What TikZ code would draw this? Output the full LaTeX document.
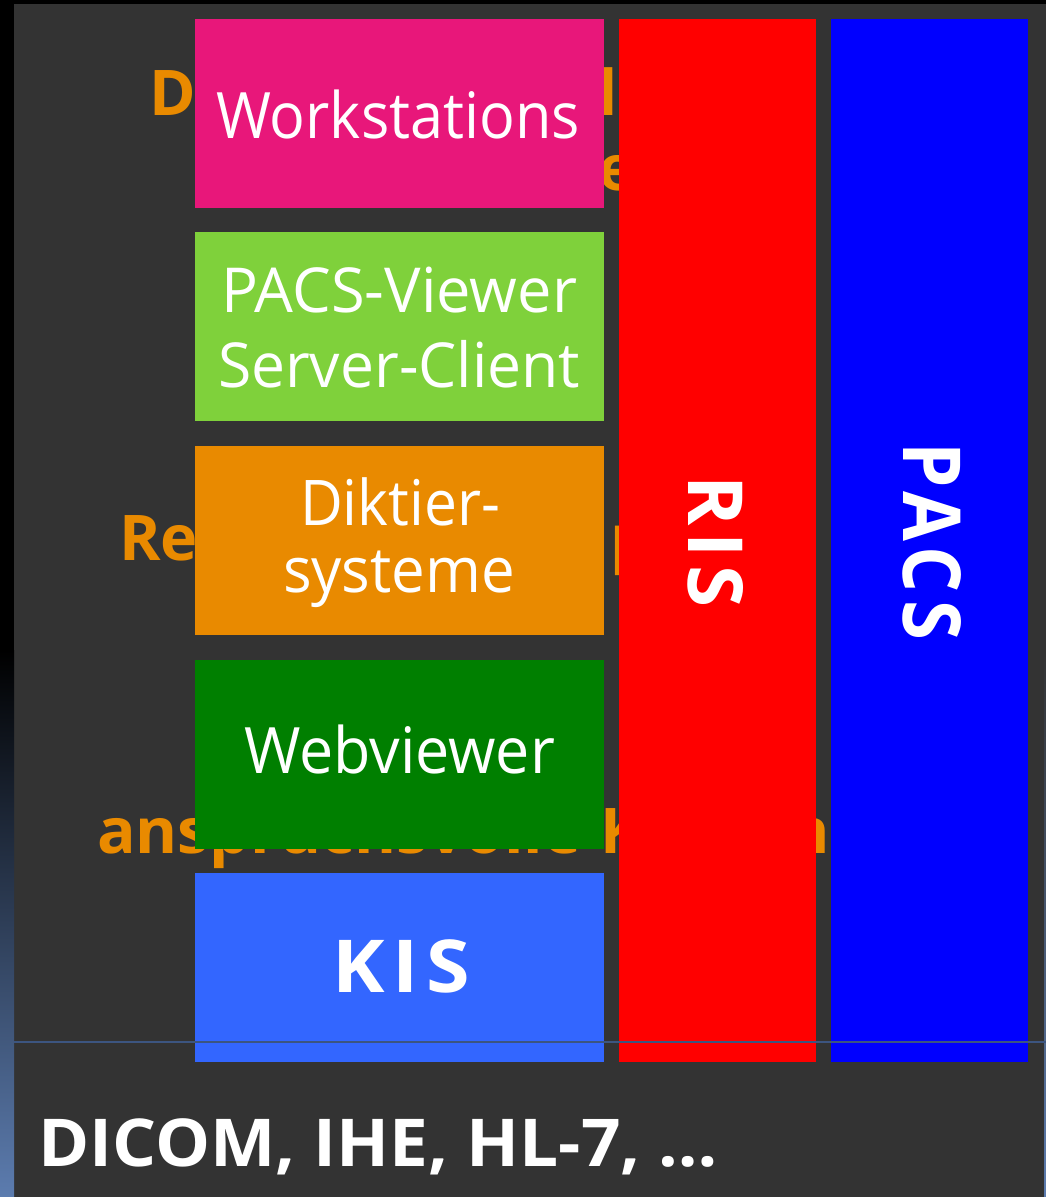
\documentclass[tikz,border=0pt]{standalone}
\usepackage{fontspec}
\usepackage{graphicx}
\setmainfont{Open Sans}
\newfontfamily\spacedsans{Open Sans}[LetterSpace=10]

\definecolor{bgdark}{HTML}{333333}
\definecolor{edgeblue}{HTML}{5C7CAF}
\definecolor{sepline}{HTML}{3C5580}
\definecolor{wspink}{HTML}{E8177A}
\definecolor{viewgreen}{HTML}{7FD13B}
\definecolor{dictorange}{HTML}{E98A00}
\definecolor{webgreen}{HTML}{007F00}
\definecolor{kisblue}{HTML}{3366FF}
\definecolor{risred}{HTML}{FF0000}
\definecolor{pacsblue}{HTML}{0000FF}

% scale a text horizontally to a given width (in pt)
\newcommand\fitw[2]{\sbox0{#2}\scalebox{\fpeval{#1/(\the\wd0)}}[1]{\usebox0}}
\newcommand\fs[1]{\fontsize{#1}{#1}\selectfont}

\begin{document}
\begin{tikzpicture}[x=1pt,y=-1pt,
  block/.style={fill=#1, draw=none, inner sep=0, minimum width=409pt, minimum height=189pt},
  column/.style={fill=#1, draw=none, inner sep=0, minimum width=197pt, minimum height=1043pt},
  lbl/.style={text=white, inner sep=0, anchor=base, font=\fs{64}},
  frag/.style={text=dictorange, inner sep=0, anchor=base west, font=\fs{63}\bfseries}]
\useasboundingbox (0,0) rectangle (1046,1197);

% background and edge strips
\fill[bgdark] (0,0) rectangle (1046,1197);
\fill[black] (0,0) rectangle (1046,4);
\fill[black] (0,0) rectangle (14,650);
\shade[top color=black, bottom color=edgeblue] (0,650) rectangle (14,1197);
\shade[top color=bgdark, bottom color=edgeblue] (1044,650) rectangle (1046,1197);
\node[text=white, inner sep=0, anchor=base east, font=\fs{62}\bfseries] (edgeglyph) at (5,1007) {J};

% orange lines of text lying behind the blocks
\node[frag] (t1a) at (149,115) {D};
\node[frag] (t1b) at (598,115) {lo};
\node[frag] (t2a) at (598,190) {e};
\node[frag] (t3a) at (119,560) {Re};
\node[frag] (t3b) at (610,560) {p};
\node[frag] (t4a) at (97,853) {\fitw{484}{anspruchsvolle}};
\node[frag] (t4b) at (600,853) {K};
\node[frag] (t4c) at (788,853) {n};

% stacked blocks
\node[block=wspink]     (ws)   at (399.5,113.5) {};
\node[block=viewgreen]  (view) at (399.5,326.5) {};
\node[block=dictorange] (dict) at (399.5,540)   {};
\node[block=webgreen]   (web)  at (399.5,754)   {};
\node[block=kisblue]    (kis)  at (399.5,967.5) {};

% tall columns
\node[column=risred]   (ris)  at (717.5,540.5) {};
\node[column=pacsblue] (pacs) at (929.5,540.5) {};

% block labels
\node[lbl] (wsl)  at (398,138) {\fitw{364}{Workstations}};
\node[lbl, font=\fs{62}] (viewl1) at (399,312) {\fitw{356}{PACS-Viewer}};
\node[lbl, font=\fs{62}] (viewl2) at (399,387) {\fitw{362}{Server-Client}};
\node[lbl, font=\fs{63}] (dictl1) at (400,525) {\fitw{200}{Diktier-}};
\node[lbl, font=\fs{63}] (dictl2) at (399,592) {\fitw{232}{systeme}};
\node[lbl, font=\fs{64}] (webl)   at (399.5,773) {\fitw{311}{Webviewer}};
\node[lbl, font=\fs{73}\spacedsans\bfseries] (kisl) at (401,992) {\fitw{138}{KIS}};

\node[lbl, rotate=-90, font=\fs{76}\spacedsans\bfseries] (risl)  at (688,541.5) {\fitw{133}{RIS}};
\node[lbl, rotate=-90, font=\fs{80}\spacedsans\bfseries] (pacsl) at (903,541) {\fitw{198}{PACS}};

% separator line and standards line
\draw[sepline, line width=1.2pt] (14,1042) -- (1046,1042);
\node[lbl, anchor=base west, font=\fs{66}\bfseries] (std) at (38,1166) {\fitw{680}{DICOM, IHE, HL-7, \dots}};
\end{tikzpicture}
\end{document}
